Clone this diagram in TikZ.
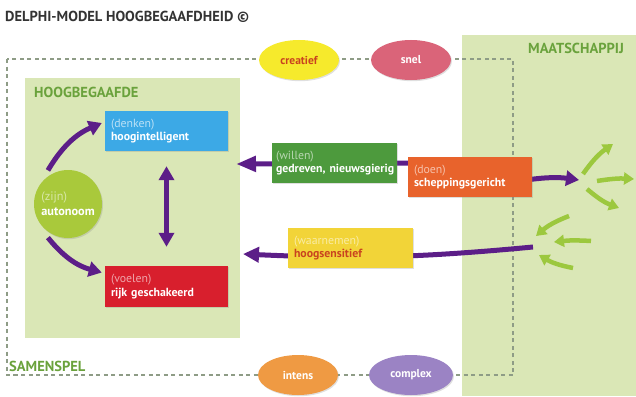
\documentclass[tikz,border=0pt]{standalone}
\usepackage{fontspec}
\setmainfont{PT Sans}
\usetikzlibrary{arrows.meta,shapes.geometric,shadows}
\definecolor{bggreen}{HTML}{DAE7B6}
\definecolor{dashc}{HTML}{8E9C86}
\definecolor{labgreen}{HTML}{6AA23C}
\definecolor{purp}{HTML}{5C1E88}
\definecolor{lgarrow}{HTML}{9CC83E}
\definecolor{cblue}{HTML}{3CA9E6}
\definecolor{cred}{HTML}{D81F2D}
\definecolor{cgreen}{HTML}{4D9A3D}
\definecolor{corange}{HTML}{E8632C}
\definecolor{cyellow}{HTML}{F2D438}
\definecolor{cauto}{HTML}{A9C93B}
\definecolor{ccreat}{HTML}{F6EA2C}
\definecolor{csnel}{HTML}{DA6479}
\definecolor{cintens}{HTML}{EF9A43}
\definecolor{ccomplex}{HTML}{9B83C4}
\definecolor{redtext}{HTML}{C9431F}
\definecolor{titlec}{HTML}{333333}
\pgfdeclarelayer{bg}
\pgfdeclarelayer{arr}
\pgfsetlayers{bg,arr,main}
\begin{document}
\begin{tikzpicture}[x=1pt,y=-1pt,
  shad/.style={drop shadow={opacity=0.25,shadow xshift=1pt,shadow yshift=-1.2pt}},
  box/.style={rectangle,shad,minimum width=123pt,minimum height=40pt,text width=111pt,
    align=left,inner xsep=6pt,inner ysep=0pt,text=white,font=\fontsize{11.8}{13.5}\selectfont},
  oval/.style={ellipse,shad,minimum width=80pt,minimum height=40pt,inner sep=0pt,
    font=\bfseries\fontsize{11.5}{13}\selectfont,text=white},
  biglabel/.style={anchor=west,inner sep=0pt,text=labgreen,font=\bfseries\fontsize{14.5}{16}\selectfont},
  parrow/.style={draw=purp,line width=5pt,-{Triangle[width=15pt,length=13pt]}},
  garrow/.style={draw=lgarrow,line width=4.5pt,-{Triangle[width=12pt,length=10pt]}},
  dashline/.style={draw=dashc,line width=1.4pt,dash pattern=on 4pt off 3.5pt}
]
\useasboundingbox (0,0) rectangle (636,396);
% title
\node[anchor=west,inner sep=0pt,text=titlec,font=\bfseries\fontsize{14.5}{16}\selectfont] (title) at (5,17) {DELPHI-MODEL HOOGBEGAAFDHEID ©};
% nodes
\node[box,fill=cblue] (denken) at (166.5,131) {\textcolor{white!65!cblue}{(denken)}\\\textbf{hoogintelligent}};
\node[box,fill=cred,minimum height=41pt] (voelen) at (166.5,286.5) {\textcolor{white!60!cred}{(voelen)}\\\textbf{rijk geschakeerd}};
\node[circle,shad,fill=cauto,minimum size=68pt,inner sep=0pt,align=left,text=white,font=\fontsize{12.3}{15}\selectfont] (zijn) at (68,204) {\textcolor{white!55!cauto}{(zijn)}\\\textbf{autonoom}};
\node[box,fill=cgreen,minimum width=125pt,text width=117pt,inner xsep=4pt] (willen) at (334.5,163) {\textcolor{white!60!cgreen}{(willen)}\\\makebox[117pt][l]{\textbf{gedreven, nieuwsgierig}}};
\node[box,fill=corange,minimum width=124pt,text width=112pt] (doen) at (470,177) {\textcolor{white!60!corange}{(doen)}\\\textbf{scheppingsgericht}};
\node[box,fill=cyellow,minimum width=125pt,text width=113pt] (waarnemen) at (350.5,248) {\textcolor{white!55!cyellow}{(waarnemen)}\\\textcolor{redtext}{\textbf{hoogsensitief}}};
\node[oval,fill=ccreat,text=redtext] (creatief) at (299,60) {creatief};
\node[oval,fill=csnel] (snel) at (411,60) {snel};
\node[oval,fill=cintens] (intens) at (298,375) {intens};
\node[oval,fill=ccomplex,minimum width=84pt] (complex) at (411,375) {complex};
% labels
\node[biglabel] (hoog) at (34,92) {HOOGBEGAAFDE};
\node[biglabel] (maat) at (528,48) {MAATSCHAPPIJ};
\node[biglabel] (samen) at (9,366) {SAMENSPEL};
% background
\begin{pgfonlayer}{bg}
\fill[bggreen] (462,35) rectangle (636,396);
\fill[bggreen] (25,78) rectangle (240,338);
\draw[dashline] (7,59) rectangle (513,375);
\end{pgfonlayer}
% free ends
\coordinate (ul) at (236,164);
\coordinate (mt) at (579,180);
\coordinate (lr) at (533,247);
\coordinate (ll) at (243,254);
\coordinate (g1s) at (583,174); \coordinate (g1e) at (613,144);
\coordinate (g2s) at (597,181); \coordinate (g2e) at (634,179);
\coordinate (g3s) at (587,189); \coordinate (g3e) at (619,208);
\coordinate (g4s) at (569,216); \coordinate (g4e) at (536,236);
\coordinate (g5s) at (591,241); \coordinate (g5e) at (554,242);
\coordinate (g6s) at (573,268); \coordinate (g6e) at (539,255);
% purple arrows
\begin{pgfonlayer}{arr}
\draw[parrow,-{Triangle[width=15pt,length=20pt]}] ([xshift=20pt]doen.west |- willen.center) -- (ul);
\draw[parrow] ([xshift=-6pt]doen.east |- mt) to[bend left=8] (mt);
\draw[parrow,-{Triangle[width=15pt,length=16pt]}] (lr) to[bend left=4] (ll);
\end{pgfonlayer}
\draw[parrow,{Triangle[width=15pt,length=14pt]}-{Triangle[width=15pt,length=14pt]}] ([yshift=-15pt]denken.south) -- ([yshift=19pt]voelen.north);
\draw[parrow] ([xshift=-3pt,yshift=4pt]zijn.120) to[bend left=18] ([yshift=8pt,xshift=-3pt]denken.west);
\draw[parrow] ([xshift=-3pt,yshift=-4pt]zijn.240) to[bend right=18] ([yshift=14pt,xshift=-3pt]voelen.west);
% green arrows
\draw[garrow] (g1s) to[bend left=10] (g1e);
\draw[garrow] (g2s) to[bend left=6] (g2e);
\draw[garrow] (g3s) to[bend right=10] (g3e);
\draw[garrow] (g4s) to[bend right=10] (g4e);
\draw[garrow] (g5s) to[bend right=5] (g5e);
\draw[garrow] (g6s) to[bend left=10] (g6e);
\end{tikzpicture}
\end{document}
